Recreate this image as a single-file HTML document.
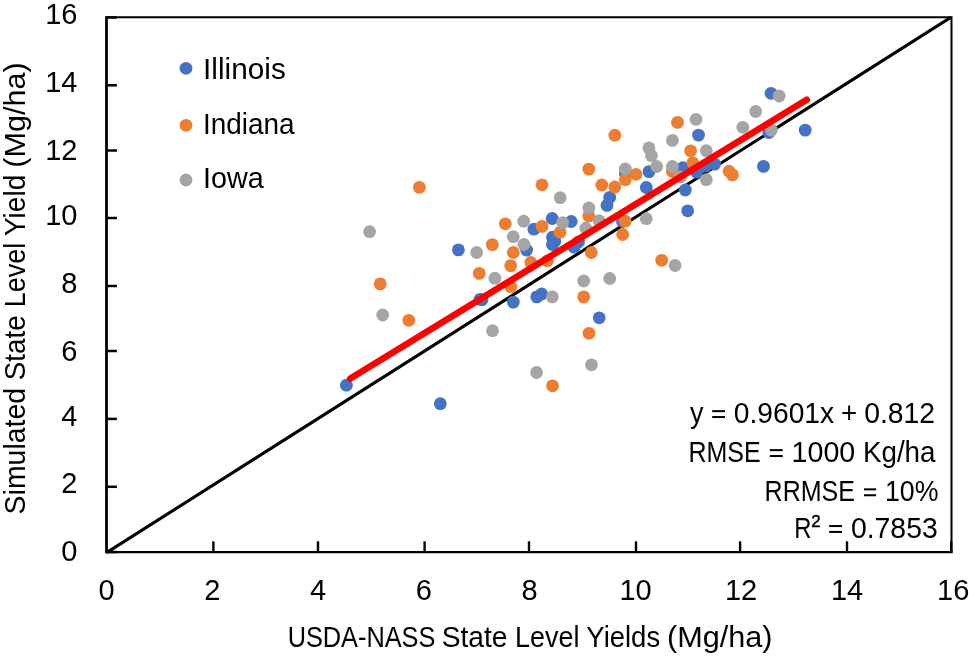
<!DOCTYPE html>
<html><head><meta charset="utf-8"><title>Chart</title>
<style>html,body{margin:0;padding:0;background:#fff;overflow:hidden;}svg{display:block;will-change:transform;}text{font-family:"Liberation Sans", sans-serif;fill:#000;}</style>
</head><body>
<svg width="969" height="657" viewBox="0 0 969 657">
<rect width="969" height="657" fill="#fff"/>
<path d="M106.6 17.3H951.5V552.0" fill="none" stroke="#000" stroke-width="2"/>
<clipPath id="pc"><rect x="105" y="16.3" width="847.7" height="537.2"/></clipPath>
<line x1="106.6" y1="552.6" x2="951.5" y2="16.9" stroke="#000" stroke-width="3.1" clip-path="url(#pc)"/>
<line x1="106.5" y1="16.3" x2="106.5" y2="553.35" stroke="#000" stroke-width="2.8"/>
<line x1="105.3" y1="552.15" x2="952.7" y2="552.15" stroke="#000" stroke-width="2.4"/>
<line x1="106.6" y1="17.5" x2="116.9" y2="17.5" stroke="#000" stroke-width="2.5"/>
<line x1="106.6" y1="85.3" x2="116.9" y2="85.3" stroke="#000" stroke-width="2.5"/>
<line x1="106.6" y1="150.5" x2="116.9" y2="150.5" stroke="#000" stroke-width="2.5"/>
<line x1="106.6" y1="218.0" x2="116.9" y2="218.0" stroke="#000" stroke-width="2.5"/>
<line x1="106.6" y1="286.0" x2="116.9" y2="286.0" stroke="#000" stroke-width="2.5"/>
<line x1="106.6" y1="351.0" x2="116.9" y2="351.0" stroke="#000" stroke-width="2.5"/>
<line x1="106.6" y1="418.9" x2="116.9" y2="418.9" stroke="#000" stroke-width="2.5"/>
<line x1="106.6" y1="486.8" x2="116.9" y2="486.8" stroke="#000" stroke-width="2.5"/>
<line x1="106.6" y1="552.0" x2="116.9" y2="552.0" stroke="#000" stroke-width="2.5"/>
<line x1="213.4" y1="552.0" x2="213.4" y2="541.3" stroke="#000" stroke-width="2.4"/>
<line x1="318.0" y1="552.0" x2="318.0" y2="541.3" stroke="#000" stroke-width="2.4"/>
<line x1="424.6" y1="552.0" x2="424.6" y2="541.3" stroke="#000" stroke-width="2.4"/>
<line x1="529.0" y1="552.0" x2="529.0" y2="541.3" stroke="#000" stroke-width="2.4"/>
<line x1="636.0" y1="552.0" x2="636.0" y2="541.3" stroke="#000" stroke-width="2.4"/>
<line x1="740.1" y1="552.0" x2="740.1" y2="541.3" stroke="#000" stroke-width="2.4"/>
<line x1="847.0" y1="552.0" x2="847.0" y2="541.3" stroke="#000" stroke-width="2.4"/>
<line x1="951.2" y1="552.0" x2="951.2" y2="541.3" stroke="#000" stroke-width="2.4"/>
<circle cx="346.4" cy="385.2" r="6.4" fill="#4472C4"/>
<circle cx="440.3" cy="403.7" r="6.4" fill="#4472C4"/>
<circle cx="458.4" cy="249.9" r="6.4" fill="#4472C4"/>
<circle cx="480.0" cy="299.3" r="6.4" fill="#4472C4"/>
<circle cx="482.0" cy="299.6" r="6.4" fill="#4472C4"/>
<circle cx="513.3" cy="302.1" r="6.4" fill="#4472C4"/>
<circle cx="536.8" cy="296.9" r="6.4" fill="#4472C4"/>
<circle cx="541.7" cy="294.0" r="6.4" fill="#4472C4"/>
<circle cx="533.9" cy="229.2" r="6.4" fill="#4472C4"/>
<circle cx="526.6" cy="250.1" r="6.4" fill="#4472C4"/>
<circle cx="552.2" cy="218.5" r="6.4" fill="#4472C4"/>
<circle cx="571.2" cy="221.5" r="6.4" fill="#4472C4"/>
<circle cx="552.5" cy="237.2" r="6.4" fill="#4472C4"/>
<circle cx="552.4" cy="244.5" r="6.4" fill="#4472C4"/>
<circle cx="554.8" cy="241.3" r="6.4" fill="#4472C4"/>
<circle cx="578.5" cy="242.0" r="6.4" fill="#4472C4"/>
<circle cx="574.0" cy="247.2" r="6.4" fill="#4472C4"/>
<circle cx="599.2" cy="317.8" r="6.4" fill="#4472C4"/>
<circle cx="607.0" cy="205.4" r="6.4" fill="#4472C4"/>
<circle cx="609.7" cy="197.4" r="6.4" fill="#4472C4"/>
<circle cx="622.5" cy="221.5" r="6.4" fill="#4472C4"/>
<circle cx="625.4" cy="173.6" r="6.4" fill="#4472C4"/>
<circle cx="646.3" cy="187.5" r="6.4" fill="#4472C4"/>
<circle cx="649.0" cy="171.6" r="6.4" fill="#4472C4"/>
<circle cx="682.9" cy="167.7" r="6.4" fill="#4472C4"/>
<circle cx="685.3" cy="190.0" r="6.4" fill="#4472C4"/>
<circle cx="687.7" cy="210.8" r="6.4" fill="#4472C4"/>
<circle cx="696.5" cy="172.1" r="6.4" fill="#4472C4"/>
<circle cx="698.5" cy="135.1" r="6.4" fill="#4472C4"/>
<circle cx="705.6" cy="166.1" r="6.4" fill="#4472C4"/>
<circle cx="714.6" cy="164.1" r="6.4" fill="#4472C4"/>
<circle cx="763.5" cy="166.4" r="6.4" fill="#4472C4"/>
<circle cx="768.9" cy="132.5" r="6.4" fill="#4472C4"/>
<circle cx="771.0" cy="93.3" r="6.4" fill="#4472C4"/>
<circle cx="805.2" cy="130.1" r="6.4" fill="#4472C4"/>
<circle cx="419.4" cy="187.4" r="6.4" fill="#ED7D31"/>
<circle cx="380.2" cy="283.9" r="6.4" fill="#ED7D31"/>
<circle cx="408.8" cy="320.3" r="6.4" fill="#ED7D31"/>
<circle cx="479.2" cy="273.4" r="6.4" fill="#ED7D31"/>
<circle cx="492.3" cy="244.6" r="6.4" fill="#ED7D31"/>
<circle cx="505.3" cy="223.8" r="6.4" fill="#ED7D31"/>
<circle cx="510.7" cy="265.6" r="6.4" fill="#ED7D31"/>
<circle cx="510.8" cy="286.6" r="6.4" fill="#ED7D31"/>
<circle cx="513.3" cy="252.5" r="6.4" fill="#ED7D31"/>
<circle cx="530.8" cy="262.5" r="6.4" fill="#ED7D31"/>
<circle cx="542.0" cy="226.4" r="6.4" fill="#ED7D31"/>
<circle cx="547.4" cy="260.8" r="6.4" fill="#ED7D31"/>
<circle cx="552.5" cy="385.8" r="6.4" fill="#ED7D31"/>
<circle cx="560.0" cy="232.2" r="6.4" fill="#ED7D31"/>
<circle cx="542.0" cy="184.8" r="6.4" fill="#ED7D31"/>
<circle cx="588.8" cy="169.1" r="6.4" fill="#ED7D31"/>
<circle cx="588.8" cy="215.9" r="6.4" fill="#ED7D31"/>
<circle cx="583.7" cy="296.9" r="6.4" fill="#ED7D31"/>
<circle cx="589.0" cy="333.3" r="6.4" fill="#ED7D31"/>
<circle cx="591.3" cy="252.5" r="6.4" fill="#ED7D31"/>
<circle cx="601.8" cy="185.0" r="6.4" fill="#ED7D31"/>
<circle cx="614.8" cy="135.2" r="6.4" fill="#ED7D31"/>
<circle cx="614.8" cy="187.0" r="6.4" fill="#ED7D31"/>
<circle cx="625.2" cy="221.2" r="6.4" fill="#ED7D31"/>
<circle cx="622.7" cy="234.5" r="6.4" fill="#ED7D31"/>
<circle cx="625.3" cy="179.8" r="6.4" fill="#ED7D31"/>
<circle cx="635.9" cy="174.3" r="6.4" fill="#ED7D31"/>
<circle cx="661.7" cy="260.3" r="6.4" fill="#ED7D31"/>
<circle cx="672.4" cy="171.4" r="6.4" fill="#ED7D31"/>
<circle cx="677.5" cy="122.4" r="6.4" fill="#ED7D31"/>
<circle cx="690.6" cy="150.8" r="6.4" fill="#ED7D31"/>
<circle cx="692.8" cy="162.8" r="6.4" fill="#ED7D31"/>
<circle cx="729.1" cy="171.2" r="6.4" fill="#ED7D31"/>
<circle cx="732.4" cy="174.9" r="6.4" fill="#ED7D31"/>
<circle cx="369.6" cy="231.7" r="6.4" fill="#A5A5A5"/>
<circle cx="382.7" cy="315.0" r="6.4" fill="#A5A5A5"/>
<circle cx="476.7" cy="252.5" r="6.4" fill="#A5A5A5"/>
<circle cx="494.9" cy="278.2" r="6.4" fill="#A5A5A5"/>
<circle cx="492.5" cy="330.7" r="6.4" fill="#A5A5A5"/>
<circle cx="513.3" cy="236.7" r="6.4" fill="#A5A5A5"/>
<circle cx="523.7" cy="221.2" r="6.4" fill="#A5A5A5"/>
<circle cx="523.9" cy="244.5" r="6.4" fill="#A5A5A5"/>
<circle cx="536.6" cy="372.5" r="6.4" fill="#A5A5A5"/>
<circle cx="552.3" cy="296.9" r="6.4" fill="#A5A5A5"/>
<circle cx="560.2" cy="197.7" r="6.4" fill="#A5A5A5"/>
<circle cx="562.7" cy="222.6" r="6.4" fill="#A5A5A5"/>
<circle cx="585.8" cy="228.2" r="6.4" fill="#A5A5A5"/>
<circle cx="588.8" cy="208.0" r="6.4" fill="#A5A5A5"/>
<circle cx="591.5" cy="364.8" r="6.4" fill="#A5A5A5"/>
<circle cx="583.7" cy="281.0" r="6.4" fill="#A5A5A5"/>
<circle cx="599.1" cy="220.7" r="6.4" fill="#A5A5A5"/>
<circle cx="609.7" cy="278.5" r="6.4" fill="#A5A5A5"/>
<circle cx="625.3" cy="169.0" r="6.4" fill="#A5A5A5"/>
<circle cx="646.3" cy="218.7" r="6.4" fill="#A5A5A5"/>
<circle cx="648.9" cy="147.9" r="6.4" fill="#A5A5A5"/>
<circle cx="651.5" cy="155.7" r="6.4" fill="#A5A5A5"/>
<circle cx="656.7" cy="166.5" r="6.4" fill="#A5A5A5"/>
<circle cx="672.4" cy="140.4" r="6.4" fill="#A5A5A5"/>
<circle cx="672.4" cy="166.5" r="6.4" fill="#A5A5A5"/>
<circle cx="675.1" cy="265.5" r="6.4" fill="#A5A5A5"/>
<circle cx="680.4" cy="177.0" r="6.4" fill="#A5A5A5"/>
<circle cx="696.0" cy="119.4" r="6.4" fill="#A5A5A5"/>
<circle cx="706.3" cy="150.7" r="6.4" fill="#A5A5A5"/>
<circle cx="706.3" cy="179.6" r="6.4" fill="#A5A5A5"/>
<circle cx="742.8" cy="127.3" r="6.4" fill="#A5A5A5"/>
<circle cx="755.7" cy="111.5" r="6.4" fill="#A5A5A5"/>
<circle cx="771.4" cy="130.1" r="6.4" fill="#A5A5A5"/>
<circle cx="779.2" cy="96.0" r="6.4" fill="#A5A5A5"/>
<line x1="350.3" y1="378.5" x2="806.7" y2="99.8" stroke="#FF0000" stroke-width="6.6" stroke-linecap="round"/>
<circle cx="186" cy="68.3" r="6.4" fill="#4472C4"/>
<circle cx="186" cy="125.3" r="6.4" fill="#ED7D31"/>
<circle cx="186" cy="180.0" r="6.4" fill="#A5A5A5"/>
<text x="203.06" y="79.0" font-size="29" textLength="82.74" lengthAdjust="spacingAndGlyphs">Illinois</text>
<text x="202.99" y="134.0" font-size="29" textLength="91.65" lengthAdjust="spacingAndGlyphs">Indiana</text>
<text x="202.96" y="188.2" font-size="29" textLength="60.73" lengthAdjust="spacingAndGlyphs">Iowa</text>
<text x="287.64" y="646.8" font-size="29" textLength="147.74" lengthAdjust="spacingAndGlyphs">USDA-NASS</text>
<text x="441.75" y="646.8" font-size="29" textLength="65.79" lengthAdjust="spacingAndGlyphs">State</text>
<text x="515.11" y="646.8" font-size="29" textLength="64.46" lengthAdjust="spacingAndGlyphs">Level</text>
<text x="586.35" y="646.8" font-size="29" textLength="73.80" lengthAdjust="spacingAndGlyphs">Yields</text>
<text x="667.06" y="646.8" font-size="29" textLength="105.52" lengthAdjust="spacingAndGlyphs">(Mg/ha)</text>
<text transform="rotate(-90)" x="-514.41" y="25.3" font-size="29" textLength="126.57" lengthAdjust="spacingAndGlyphs">Simulated</text>
<text transform="rotate(-90)" x="-380.15" y="25.3" font-size="29" textLength="64.76" lengthAdjust="spacingAndGlyphs">State</text>
<text transform="rotate(-90)" x="-307.17" y="25.3" font-size="29" textLength="64.42" lengthAdjust="spacingAndGlyphs">Level</text>
<text transform="rotate(-90)" x="-236.04" y="25.3" font-size="29" textLength="61.25" lengthAdjust="spacingAndGlyphs">Yield</text>
<text transform="rotate(-90)" x="-167.65" y="25.3" font-size="29" textLength="105.35" lengthAdjust="spacingAndGlyphs">(Mg/ha)</text>
<text x="689.94" y="422.7" font-size="29" textLength="13.52" lengthAdjust="spacingAndGlyphs">y</text>
<rect x="712.20" y="410.15" width="12.80" height="2"/><rect x="712.20" y="416.05" width="12.80" height="2"/>
<text x="733.76" y="422.7" font-size="29" textLength="100.42" lengthAdjust="spacingAndGlyphs">0.9601x</text>
<text x="841.05" y="422.7" font-size="29" textLength="16.23" lengthAdjust="spacingAndGlyphs">+</text>
<text x="864.18" y="422.7" font-size="29" textLength="70.79" lengthAdjust="spacingAndGlyphs">0.812</text>
<text x="688.48" y="461.7" font-size="29" textLength="72.25" lengthAdjust="spacingAndGlyphs">RMSE</text>
<rect x="769.80" y="449.15" width="12.90" height="2"/><rect x="769.80" y="455.05" width="12.90" height="2"/>
<text x="791.58" y="461.7" font-size="29" textLength="63.66" lengthAdjust="spacingAndGlyphs">1000</text>
<text x="862.90" y="461.7" font-size="29" textLength="72.66" lengthAdjust="spacingAndGlyphs">Kg/ha</text>
<text x="764.62" y="500.9" font-size="29" textLength="90.36" lengthAdjust="spacingAndGlyphs">RRMSE</text>
<rect x="864.00" y="488.35" width="12.10" height="2"/><rect x="864.00" y="494.25" width="12.10" height="2"/>
<text x="884.97" y="500.9" font-size="29" textLength="53.59" lengthAdjust="spacingAndGlyphs">10%</text>
<text x="794.13" y="537.6" font-size="29" textLength="17.21" lengthAdjust="spacingAndGlyphs">R</text>
<text x="811.21" y="526.9" font-size="16.9" textLength="9.39" lengthAdjust="spacingAndGlyphs" stroke="#000" stroke-width="0.45">2</text>
<rect x="829.20" y="525.05" width="12.80" height="2"/><rect x="829.20" y="530.95" width="12.80" height="2"/>
<text x="850.90" y="537.6" font-size="29" textLength="86.84" lengthAdjust="spacingAndGlyphs">0.7853</text>
<text x="77.5" y="24.0" font-size="29" text-anchor="end">16</text>
<text x="77.5" y="92.2" font-size="29" text-anchor="end">14</text>
<text x="77.5" y="160.0" font-size="29" text-anchor="end">12</text>
<text x="77.5" y="225.0" font-size="29" text-anchor="end">10</text>
<text x="77.5" y="293.2" font-size="29" text-anchor="end">8</text>
<text x="77.5" y="361.0" font-size="29" text-anchor="end">6</text>
<text x="77.5" y="425.9" font-size="29" text-anchor="end">4</text>
<text x="77.5" y="492.9" font-size="29" text-anchor="end">2</text>
<text x="77.5" y="560.5" font-size="29" text-anchor="end">0</text>
<text x="106.60" y="600" font-size="29" text-anchor="middle">0</text>
<text x="212.40" y="600" font-size="29" text-anchor="middle">2</text>
<text x="318.10" y="600" font-size="29" text-anchor="middle">4</text>
<text x="423.90" y="600" font-size="29" text-anchor="middle">6</text>
<text x="529.50" y="600" font-size="29" text-anchor="middle">8</text>
<text x="635.55" y="600" font-size="29" text-anchor="middle">10</text>
<text x="741.05" y="600" font-size="29" text-anchor="middle">12</text>
<text x="847.05" y="600" font-size="29" text-anchor="middle">14</text>
<text x="953.20" y="600" font-size="29" text-anchor="middle">16</text>
</svg>
</body></html>
